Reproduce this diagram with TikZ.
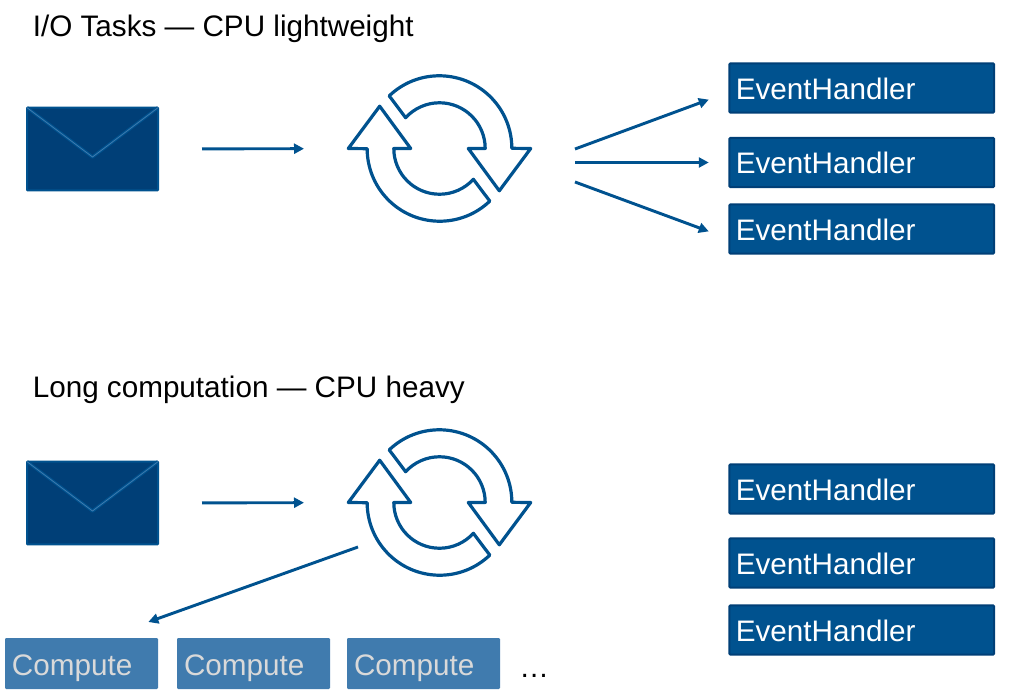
\documentclass[tikz,border=0pt]{standalone}
\usepackage{fontspec}
\setmainfont{Liberation Sans}
\usetikzlibrary{arrows.meta}
\definecolor{flowblue}{HTML}{00528F}
\definecolor{darkblue}{HTML}{003F77}
\definecolor{foldblue}{HTML}{3F7BAF}
\definecolor{computeblue}{HTML}{407BAE}
\definecolor{computetext}{HTML}{D9D9D9}
\tikzset{
	heading/.style={anchor=base west, inner sep=0pt, font=\fontsize{22.25}{26}\selectfont},
	handler/.style={draw=darkblue, fill=flowblue, line width=1.5pt, rounded corners=0.8pt, outer sep=0pt,
		minimum width=198.5pt, minimum height=37pt, text width=189pt, inner xsep=4.75pt, inner ysep=0pt,
		text=white, text height=17pt, text depth=0pt, font=\fontsize{22.25}{26}\selectfont},
	compute/.style={fill=computeblue, rounded corners=0.8pt, outer sep=0pt,
		minimum width=114.75pt, minimum height=38.25pt, text width=104.25pt, inner xsep=5.25pt, inner ysep=0pt,
		text=computetext, text height=18pt, text depth=0pt, font=\fontsize{22.25}{26}\selectfont},
	envelope/.style={draw=flowblue, fill=darkblue, line width=1.5pt, rounded corners=0.5pt, outer sep=0pt,
		minimum width=98.25pt, minimum height=62pt},
	loopbox/.style={minimum width=137.25pt, minimum height=110.25pt, inner sep=0pt, outer sep=0pt},
	flow/.style={flowblue, line width=2.2pt, -{Triangle[length=7.5pt,width=7.5pt]}},
}
\begin{document}
\begin{tikzpicture}[x=0.75pt, y=-0.75pt]
	\useasboundingbox (0,0) rectangle (1021,696);

	\node[heading] (titleA) at (32.5,36.5) {I/O Tasks — CPU lightweight};
	\node[heading] (titleB) at (32.5,397) {Long computation — CPU heavy};

	\node[envelope] (mailA) at (92.5,149) {};
	\node[envelope] (mailB) at (92.5,503) {};
	\foreach \m in {mailA,mailB} {
		\draw[flowblue, line width=2.4pt, line join=round] (\m.north west) -- ([yshift=-37pt]\m.north) -- (\m.north east);
		\draw[foldblue, line width=0.6pt, line join=round] (\m.north west) -- ([yshift=-37pt]\m.north) -- (\m.north east);
	}

	\node[loopbox] (loopA) at (439.5,148.5) {};
	\node[loopbox] (loopB) at (439.5,502.5) {};
	\foreach \l in {loopA,loopB} {
		\foreach \a in {0,180} {
			\draw[flowblue, line width=2.4pt, line join=round, shift={(\l.center)}, x=0.75pt, y=0.75pt, rotate=\a]
				(133.7:72.8) arc[start angle=133.7, end angle=0, radius=54.4pt]
				-- (91.2,0) -- (59.8,-42.3) -- (28.8,0) -- (45.7,0)
				arc[start angle=0, end angle=137.7, radius=34.3pt] -- cycle;
		}
	}

	\node[handler] (handlerA) at (861.75,88) {EventHandler};
	\node[handler] (handlerB) at (861.75,162.5) {EventHandler};
	\node[handler] (handlerC) at (861.75,229) {EventHandler};
	\node[handler] (handlerD) at (861.75,489) {EventHandler};
	\node[handler] (handlerE) at (861.75,563) {EventHandler};
	\node[handler] (handlerF) at (861.75,630) {EventHandler};

	\node[compute] (computeA) at (81.5,663.5) {Compute};
	\node[compute] (computeB) at (253.5,663.5) {Compute};
	\node[compute] (computeC) at (423.5,663.5) {Compute};
	\node[anchor=base west, inner sep=0pt, font=\fontsize{22.25}{26}\selectfont] (dots) at (519,677) {…};

	\coordinate (fanA) at (575,149);
	\coordinate (fanB) at (575,162.5);
	\coordinate (fanC) at (575,182);
	\coordinate (tapB) at (358,547);

	\draw[flow, shorten <=33pt, shorten >=33pt] (mailA) -- (loopA);
	\draw[flow, shorten <=33pt, shorten >=33pt] (mailB) -- (loopB);
	\draw[flow, shorten >=16.5pt] (fanA) -- ([yshift=-3pt]handlerA.west);
	\draw[flow, shorten >=15.5pt] (fanB) -- (handlerB.west);
	\draw[flow, shorten >=16.5pt] (fanC) -- ([yshift=-7.5pt]handlerC.west);
	\draw[flow, shorten >=35.7pt] (tapB) -- ([xshift=16.5pt]computeA.north);
\end{tikzpicture}
\end{document}
